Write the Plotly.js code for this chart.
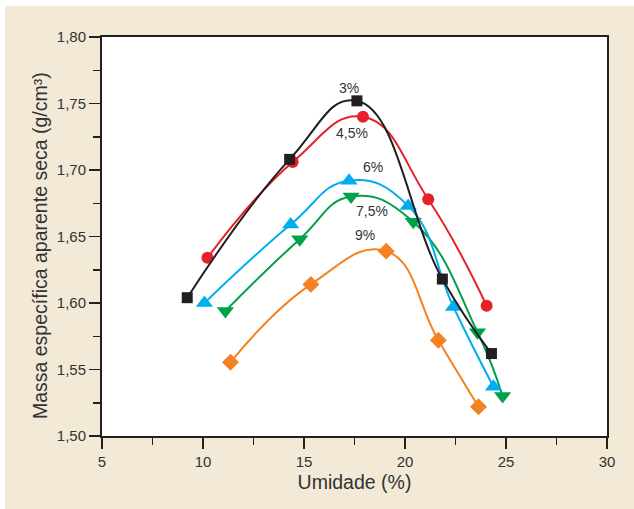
<!DOCTYPE html>
<html>
<head>
<meta charset="utf-8">
<script src="https://cdn.plot.ly/plotly-3.0.1.min.js"></script>
<style>
  html, body { margin:0; padding:0; background:#ffffff; }
  #chart { position:absolute; left:5px; top:6px; width:629px; height:503px; }
</style>
</head>
<body>
<div id="chart"></div>
<script>
// Series: umidade (%) vs massa específica aparente seca (g/cm³)
const x3  = [9.22, 14.29, 17.62, 21.85, 24.28];
const y3  = [1.604, 1.708, 1.752, 1.618, 1.562];
const x45 = [10.22, 14.44, 17.92, 21.15, 24.04];
const y45 = [1.634, 1.706, 1.740, 1.678, 1.598];
const x6  = [10.07, 14.34, 17.23, 20.16, 22.40, 24.38];
const y6  = [1.600, 1.659, 1.692, 1.673, 1.597, 1.537];
const x75 = [11.11, 14.79, 17.33, 20.41, 23.59, 24.83];
const y75 = [1.594, 1.648, 1.680, 1.661, 1.578, 1.530];
const x9  = [11.36, 15.34, 19.07, 21.65, 23.64];
const y9  = [1.5555, 1.614, 1.639, 1.572, 1.522];

const labels = ["3%", "4,5%", "6%", "7,5%", "9%"];
const labelX = [17.23, 17.40, 18.40, 18.37, 18.02];
const labelY = [1.762, 1.728, 1.702, 1.669, 1.651];

const xTicks = [5, 10, 15, 20, 25, 30];
const yTicks = [1.50, 1.55, 1.60, 1.65, 1.70, 1.75, 1.80];

function tr(x, y, color, symbol, size) {
  return {
    x: x, y: y, type: 'scatter', mode: 'lines+markers',
    line: {color: color, width: 2, shape: 'spline', smoothing: 1.3},
    marker: {color: color, symbol: symbol, size: size, line: {width: 0}},
    showlegend: false, hoverinfo: 'skip'
  };
}

const data = [
  tr(x9,  y9,  '#f58220', 'diamond', 13),
  tr(x75, y75, '#00a14b', 'triangle-down', 15),
  tr(x6,  y6,  '#00aeef', 'triangle-up', 15),
  tr(x45, y45, '#e8202a', 'circle', 12),
  tr(x3,  y3,  '#231f20', 'square', 11)
];

const FONT = 'Liberation Sans, Arial, sans-serif';
const annotations = labels.map((t, i) => ({
  x: labelX[i], y: labelY[i], xref: 'x', yref: 'y', text: t, showarrow: false,
  font: {family: FONT, size: 14, color: '#333333'}
}));
annotations.push({
  x: 0, y: 0.476, xref: 'paper', yref: 'paper', xshift: -62, xanchor: 'center', yanchor: 'middle',
  text: 'Massa específica aparente seca (g/cm³)', textangle: -90, showarrow: false,
  font: {family: FONT, size: 19.5, color: '#333333'}
});

const axisCommon = {
  showgrid: false, zeroline: false, showline: true, linecolor: '#231f20', linewidth: 2,
  mirror: true, ticks: 'outside', ticklen: 11, tickwidth: 1.5, tickcolor: '#231f20',
  tickfont: {family: FONT, size: 15, color: '#333333'}
};

const layout = {
  width: 629, height: 503,
  margin: {l: 97, r: 27, t: 31, b: 73},
  paper_bgcolor: '#f2ead7', plot_bgcolor: '#ffffff',
  separators: ',.',
  xaxis: Object.assign({}, axisCommon, {
    range: [5, 30], tickvals: xTicks, ticktext: xTicks.map(String),
    minor: {dtick: 2.5, ticks: 'outside', ticklen: 7, tickwidth: 1.5, tickcolor: '#231f20', showgrid: false},
    title: {text: 'Umidade (%)', standoff: 6, font: {family: FONT, size: 19.5, color: '#333333'}}
  }),
  yaxis: Object.assign({}, axisCommon, {
    range: [1.50, 1.80], tickvals: yTicks, tickformat: '.2f',
    minor: {dtick: 0.025, ticks: 'outside', ticklen: 7, tickwidth: 1.5, tickcolor: '#231f20', showgrid: false}
  }),
  annotations: annotations
};

Plotly.newPlot('chart', data, layout, {displayModeBar: false, staticPlot: true});
</script>
</body>
</html>
